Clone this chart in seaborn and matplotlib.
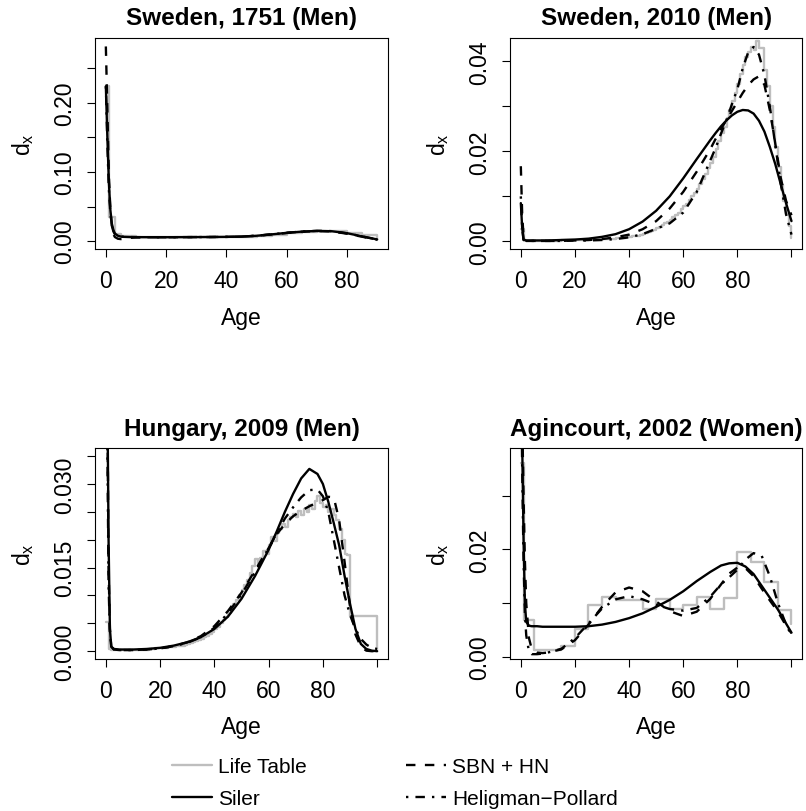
import matplotlib
matplotlib.use("Agg")
import matplotlib.pyplot as plt
from matplotlib.lines import Line2D
import seaborn as sns

# ---------------------------------------------------------------- data
# Sweden, 1751 (Men): abridged life table and fitted d(x) curves
se1751_lt_age = [0, 1, 3, 5, 10, 15, 20, 25, 30, 35, 40, 45, 50, 55, 60, 65, 70, 75, 80, 85, 90]
se1751_lt_dx = [0.2235, 0.0345, 0.0110, 0.0080, 0.0056, 0.0055, 0.0058, 0.0060, 0.0062, 0.0063,
                0.0064, 0.0060, 0.0078, 0.0095, 0.0115, 0.0132, 0.0148, 0.0148, 0.0122, 0.0085,
                0.0022]
se1751_age = [0, 0.5, 1, 1.5, 2, 2.5, 3, 4, 5, 6, 8, 10, 15, 20, 25, 30, 35, 40, 45, 50,
              55, 60, 65, 70, 75, 80, 85, 90]
se1751_siler = [0.2235, 0.150, 0.085, 0.045, 0.025, 0.016, 0.011, 0.0078, 0.0066, 0.0062,
                0.0059, 0.0058, 0.0057, 0.0057, 0.0058, 0.0059, 0.0060, 0.0062, 0.0066, 0.0078,
                0.0098, 0.0120, 0.0138, 0.0148, 0.0143, 0.0115, 0.0070, 0.0025]
se1751_sbn = [0.281, 0.190, 0.095, 0.045, 0.020, 0.010, 0.0060, 0.0035, 0.0030, 0.0035,
              0.0048, 0.0055, 0.0057, 0.0057, 0.0058, 0.0059, 0.0060, 0.0062, 0.0066, 0.0078,
              0.0097, 0.0118, 0.0136, 0.0146, 0.0140, 0.0108, 0.0064, 0.0022]
se1751_hp = [0.2235, 0.140, 0.075, 0.040, 0.022, 0.014, 0.010, 0.0075, 0.0066, 0.0062,
             0.0059, 0.0058, 0.0057, 0.0057, 0.0058, 0.0059, 0.0060, 0.0062, 0.0066, 0.0079,
             0.0099, 0.0121, 0.0139, 0.0149, 0.0145, 0.0113, 0.0068, 0.0024]

# Sweden, 2010 (Men): single-year life table and fitted curves
se2010_lt_age = list(range(0, 101))
se2010_lt_dx = [
    0.0027, 0.0002, 0.0001, 0.0001, 0.0001,
    0.0001, 0.0001, 0.0001, 0.0001, 0.0001,
    0.0001, 0.0001, 0.0001, 0.0001, 0.0001,
    0.0002, 0.0002, 0.0003, 0.0003, 0.0004,
    0.0004, 0.0004, 0.0004, 0.0004, 0.0004,
    0.0004, 0.0005, 0.0005, 0.0005, 0.0005,
    0.0005, 0.0005, 0.0006, 0.0006, 0.0006,
    0.0007, 0.0007, 0.0008, 0.0008, 0.0009,
    0.0010, 0.0011, 0.0012, 0.0013, 0.0014,
    0.0017, 0.0018, 0.0021, 0.0024, 0.0026,
    0.0029, 0.0032, 0.0036, 0.0040, 0.0044,
    0.0048, 0.0054, 0.0058, 0.0064, 0.0071,
    0.0078, 0.0084, 0.0092, 0.0100, 0.0108,
    0.0117, 0.0128, 0.0138, 0.0150, 0.0163,
    0.0175, 0.0188, 0.0205, 0.0222, 0.0240,
    0.0255, 0.0275, 0.0292, 0.0312, 0.0330,
    0.0350, 0.0372, 0.0392, 0.0410, 0.0420,
    0.0432, 0.0425, 0.0445, 0.0430, 0.0430,
    0.0380, 0.0345, 0.0300, 0.0255, 0.0210,
    0.0165, 0.0125, 0.0090, 0.0060, 0.0035,
    0.0008,
]
se2010_age = [0, 0.5, 1, 2, 5, 10, 15, 20, 25, 30, 35, 40, 45, 50, 55, 60, 65, 70, 72, 74,
              76, 78, 80, 82, 84, 86, 88, 90, 92, 94, 96, 98, 100]
se2010_siler = [0.0085, 0.0030, 0.0004, 0.0002, 0.0002, 0.0002, 0.0003, 0.0004, 0.0006, 0.0010,
                0.0016, 0.0027, 0.0044, 0.0068, 0.0100, 0.0140, 0.0183, 0.0225, 0.0241, 0.0256,
                0.0269, 0.0280, 0.0288, 0.0292, 0.0291, 0.0284, 0.0268, 0.0244, 0.0210, 0.0172,
                0.0128, 0.0085, 0.0045]
se2010_sbn = [0.0167, 0.0060, 0.0010, 0.0001, 0.0001, 0.0001, 0.0001, 0.0002, 0.0003, 0.0005,
              0.0009, 0.0015, 0.0027, 0.0045, 0.0073, 0.0110, 0.0155, 0.0205, 0.0228, 0.0250,
              0.0270, 0.0290, 0.0310, 0.0330, 0.0347, 0.0360, 0.0367, 0.0348, 0.0292, 0.0218,
              0.0142, 0.0090, 0.0058]
se2010_hp = [0.0100, 0.0030, 0.0003, 0.0001, 0.0001, 0.0001, 0.0001, 0.0002, 0.0002, 0.0003,
             0.0005, 0.0009, 0.0016, 0.0028, 0.0040, 0.0064, 0.0110, 0.0180, 0.0208, 0.0240,
             0.0270, 0.0305, 0.0338, 0.0385, 0.0420, 0.0432, 0.0415, 0.0370, 0.0300, 0.0215,
             0.0130, 0.0060, 0.0015]

# Hungary, 2009 (Men): single years to 89, open interval 90+
hu2009_lt_age = list(range(0, 91)) + [100]
hu2009_lt_dx = [
    0.0053, 0.0004, 0.0003, 0.0002, 0.0002,
    0.0002, 0.0002, 0.0002, 0.0002, 0.0002,
    0.0002, 0.0002, 0.0002, 0.0002, 0.0002,
    0.0003, 0.0004, 0.0004, 0.0005, 0.0005,
    0.0006, 0.0006, 0.0006, 0.0007, 0.0007,
    0.0008, 0.0009, 0.0009, 0.0010, 0.0011,
    0.0013, 0.0014, 0.0016, 0.0018, 0.0020,
    0.0022, 0.0025, 0.0028, 0.0031, 0.0035,
    0.0039, 0.0044, 0.0050, 0.0056, 0.0062,
    0.0069, 0.0076, 0.0085, 0.0092, 0.0100,
    0.0110, 0.0118, 0.0128, 0.0140, 0.0152,
    0.0165, 0.0158, 0.0168, 0.0180, 0.0175,
    0.0190, 0.0205, 0.0198, 0.0212, 0.0220,
    0.0228, 0.0222, 0.0235, 0.0240, 0.0246,
    0.0240, 0.0252, 0.0245, 0.0256, 0.0250,
    0.0262, 0.0255, 0.0270, 0.0278, 0.0265,
    0.0258, 0.0262, 0.0250, 0.0255, 0.0245,
    0.0235, 0.0220, 0.0200, 0.0175, 0.0172,
    0.0063,
    0.0003,
]
hu2009_age = [0, 0.5, 1, 1.5, 2, 3, 5, 10, 15, 20, 25, 30, 35, 40, 45, 50, 55, 60, 63, 66,
              69, 72, 75, 78, 80, 82, 84, 86, 88, 90, 92, 94, 96, 98, 100]
hu2009_siler = [0.090, 0.050, 0.020, 0.004, 0.0008, 0.0004, 0.0003, 0.0003, 0.0004, 0.0006,
                0.0010, 0.0016, 0.0025, 0.0040, 0.0062, 0.0094, 0.0135, 0.0182, 0.0215, 0.0250,
                0.0282, 0.0310, 0.0327, 0.0318, 0.0300, 0.0268, 0.0230, 0.0190, 0.0135, 0.0085,
                0.0040, 0.0013, 0.0004, 0.0001, 0.0000]
hu2009_sbn = [0.100, 0.050, 0.015, 0.004, 0.0008, 0.0003, 0.0002, 0.0002, 0.0003, 0.0005,
              0.0009, 0.0016, 0.0027, 0.0045, 0.0072, 0.0105, 0.0145, 0.0185, 0.0210, 0.0228,
              0.0242, 0.0252, 0.0260, 0.0267, 0.0271, 0.0277, 0.0276, 0.0235, 0.0160, 0.0080,
              0.0030, 0.0008, 0.0001, 0.0000, 0.0000]
hu2009_hp = [0.100, 0.040, 0.012, 0.003, 0.0008, 0.0003, 0.0002, 0.0002, 0.0003, 0.0005,
             0.0009, 0.0015, 0.0025, 0.0042, 0.0068, 0.0102, 0.0142, 0.0185, 0.0212, 0.0238,
             0.0258, 0.0276, 0.0289, 0.0290, 0.0278, 0.0250, 0.0200, 0.0150, 0.0100, 0.0065,
             0.0040, 0.0022, 0.0012, 0.0006, 0.0004]

# Agincourt, 2002 (Women): abridged life table and fitted curves
ag2002_lt_age = [0, 1, 5, 10, 15, 20, 25, 30, 35, 40, 45, 50, 55, 60, 65, 70, 75, 80, 85, 90, 95, 100]
ag2002_lt_dx = [0.0360, 0.0069, 0.0013, 0.0012, 0.0020, 0.0052, 0.0096, 0.0112, 0.0106, 0.0106,
                0.0089, 0.0107, 0.0089, 0.0097, 0.0112, 0.0089, 0.0110, 0.0196, 0.0176, 0.0140,
                0.0087, 0.0062]
ag2002_age = [0, 0.5, 1, 1.5, 2, 3, 4, 6, 8, 10, 15, 20, 25, 30, 35, 40, 45, 50, 55, 60,
              65, 70, 74, 77, 80, 83, 86, 89, 92, 95, 98, 100]
ag2002_siler = [0.060, 0.040, 0.022, 0.010, 0.0065, 0.0058, 0.0057, 0.0057, 0.0056, 0.0056,
                0.0056, 0.0056, 0.0057, 0.0060, 0.0065, 0.0072, 0.0081, 0.0093, 0.0106, 0.0122,
                0.0141, 0.0158, 0.0170, 0.0174, 0.0175, 0.0168, 0.0154, 0.0132, 0.0110, 0.0088,
                0.0062, 0.0045]
ag2002_sbn = [0.060, 0.045, 0.030, 0.018, 0.010, 0.0035, 0.0015, 0.0008, 0.0007, 0.0008,
              0.0014, 0.0031, 0.0060, 0.0093, 0.0120, 0.0129, 0.0122, 0.0103, 0.0085, 0.0076,
              0.0084, 0.0108, 0.0135, 0.0155, 0.0166, 0.0165, 0.0150, 0.0127, 0.0105, 0.0084,
              0.0058, 0.0044]
ag2002_hp = [0.060, 0.035, 0.018, 0.008, 0.004, 0.0010, 0.0005, 0.0005, 0.0006, 0.0008,
             0.0015, 0.0035, 0.0062, 0.0090, 0.0107, 0.0113, 0.0107, 0.0097, 0.0089, 0.0086,
             0.0091, 0.0112, 0.0135, 0.0148, 0.0162, 0.0181, 0.0193, 0.0188, 0.0150, 0.0100,
             0.0060, 0.0040]

titles = ["Sweden, 1751 (Men)", "Sweden, 2010 (Men)",
          "Hungary, 2009 (Men)", "Agincourt, 2002 (Women)"]
legend_labels = ["Life Table", "Siler", "SBN + HN", "Heligman\u2212Pollard"]

# ---------------------------------------------------------------- style
sns.set_style("ticks")
plt.rcParams["font.family"] = ["Liberation Sans", "DejaVu Sans"]
plt.rcParams["mathtext.fontset"] = "custom"
plt.rcParams["mathtext.rm"] = "Liberation Sans"
for key in ("axes.edgecolor", "text.color", "axes.labelcolor",
            "xtick.color", "ytick.color", "axes.titlecolor"):
    plt.rcParams[key] = "black"
plt.rcParams["axes.linewidth"] = 0.8

GRAY = "#BEBEBE"
LW = 1.7
DASHED = (0, (4, 4))
DOTDASH = (0, (1, 3, 4, 3))
TICK_FS = 16.5
LABEL_FS = 16.5
TITLE_FS = 17.5

W, H = 806, 812
fig = plt.figure(figsize=(W / 100, H / 100), dpi=100)


def box(left, top, width, height):
    return [left / W, 1 - (top + height) / H, width / W, height / H]


panels = [
    dict(rect=box(95, 39, 293, 211), xlim=(-3.6, 93.6), ylim=(-0.0113, 0.2932),
         xt=[0, 20, 40, 60, 80], xl=["0", "20", "40", "60", "80"],
         yt=[0, 0.05, 0.10, 0.15, 0.20, 0.25], yl=["0.00", "", "0.10", "", "0.20", ""],
         lt=(se1751_lt_age, se1751_lt_dx),
         fits=(se1751_age, se1751_siler, se1751_sbn, se1751_hp)),
    dict(rect=box(510, 39, 292.3, 211), xlim=(-4, 104), ylim=(-0.0017, 0.0452),
         xt=[0, 20, 40, 60, 80, 100], xl=["0", "20", "40", "60", "80", ""],
         yt=[0, 0.01, 0.02, 0.03, 0.04], yl=["0.00", "", "0.02", "", "0.04"],
         lt=(se2010_lt_age, se2010_lt_dx),
         fits=(se2010_age, se2010_siler, se2010_sbn, se2010_hp)),
    dict(rect=box(95, 449.3, 293, 210.7), xlim=(-4, 104), ylim=(-0.0014, 0.0364),
         xt=[0, 20, 40, 60, 80, 100], xl=["0", "20", "40", "60", "80", ""],
         yt=[0, 0.005, 0.010, 0.015, 0.020, 0.025, 0.030, 0.035],
         yl=["0.000", "", "", "0.015", "", "", "0.030", ""],
         lt=(hu2009_lt_age, hu2009_lt_dx),
         fits=(hu2009_age, hu2009_siler, hu2009_sbn, hu2009_hp)),
    dict(rect=box(510, 449.3, 292.3, 210.7), xlim=(-4, 104), ylim=(-0.0004, 0.0388),
         xt=[0, 20, 40, 60, 80, 100], xl=["0", "20", "40", "60", "80", ""],
         yt=[0, 0.01, 0.02, 0.03], yl=["0.00", "", "0.02", ""],
         lt=(ag2002_lt_age, ag2002_lt_dx),
         fits=(ag2002_age, ag2002_siler, ag2002_sbn, ag2002_hp)),
]

for spec, title in zip(panels, titles):
    ax = fig.add_axes(spec["rect"])
    lt_age, lt_dx = spec["lt"]
    age, siler, sbn, hp = spec["fits"]

    sns.lineplot(x=lt_age, y=lt_dx, ax=ax, color=GRAY, lw=LW,
                 drawstyle="steps-post", errorbar=None)
    sns.lineplot(x=age, y=siler, ax=ax, color="black", lw=LW, errorbar=None)
    sns.lineplot(x=age, y=sbn, ax=ax, color="black", lw=LW,
                 linestyle=DASHED, errorbar=None)
    sns.lineplot(x=age, y=hp, ax=ax, color="black", lw=LW,
                 linestyle=DOTDASH, errorbar=None)

    ax.set_xlim(*spec["xlim"])
    ax.set_ylim(*spec["ylim"])
    ax.set_xticks(spec["xt"])
    ax.set_xticklabels(spec["xl"])
    ax.set_yticks(spec["yt"])
    ax.set_yticklabels(spec["yl"])
    ax.tick_params(direction="out", length=5.8, width=0.8, color="black",
                   labelsize=TICK_FS, labelcolor="black")
    ax.tick_params(axis="x", pad=8.5)
    ax.tick_params(axis="y", pad=8, labelrotation=90)
    for lab in ax.get_yticklabels():
        lab.set_va("center")

    ax.set_xlabel("Age", fontsize=LABEL_FS, va="center")
    ax.xaxis.set_label_coords(0.5, -68 / 211)
    ax.set_ylabel(r"$\mathregular{d_x}$", fontsize=LABEL_FS, va="center")
    ax.yaxis.set_label_coords(-72 / 293, 0.5)
    ax.set_title(title, fontsize=TITLE_FS, fontweight="bold",
                 y=1 + 20 / 211, va="center", pad=0)
    for side in ax.spines.values():
        side.set_visible(True)
        side.set_color("black")
        side.set_linewidth(0.8)

handles = [
    Line2D([], [], color=GRAY, lw=LW),
    Line2D([], [], color="black", lw=LW),
    Line2D([], [], color="black", lw=LW, linestyle=DASHED),
    Line2D([], [], color="black", lw=LW, linestyle=DOTDASH),
]
fig.legend(handles, legend_labels, ncol=2, loc="upper left",
           bbox_to_anchor=(172 / W, 1 - 758 / H), frameon=False, fontsize=15,
           handlelength=1.92, handletextpad=0.3, columnspacing=4.75,
           labelspacing=0.62, borderpad=0, borderaxespad=0)

fig.savefig("out.png", dpi=100)
